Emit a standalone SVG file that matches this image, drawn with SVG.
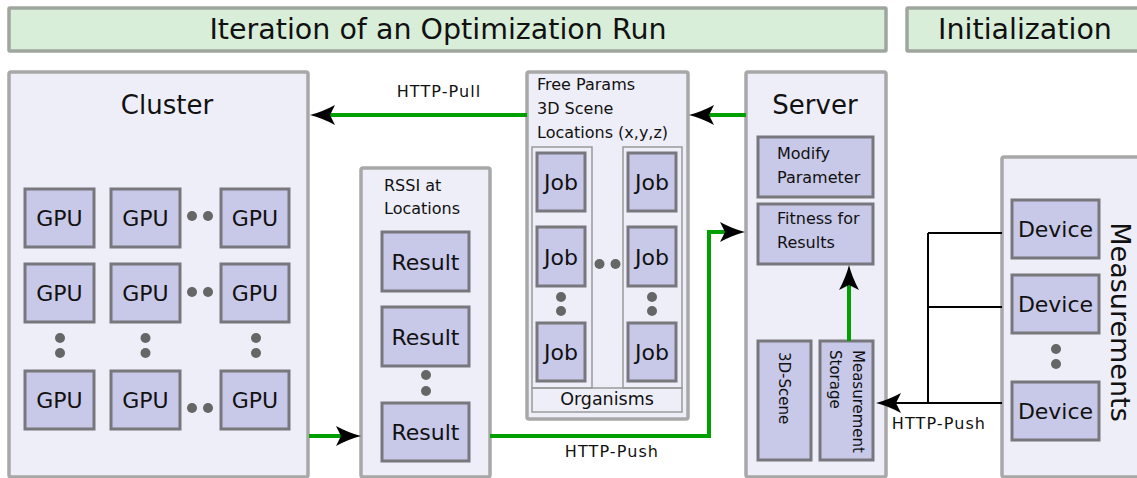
<svg xmlns="http://www.w3.org/2000/svg" width="1137" height="478" viewBox="0 0 1137 478">
<style>
text{font-family:"DejaVu Sans","Liberation Sans",sans-serif;fill:#111}
.hdr{fill:#d8eed8;stroke:#9ea69e;stroke-width:3.5}
.outer{fill:#eeeef8;stroke:#a8a8a8;stroke-width:3.5}
.node{fill:#c8c8e8;stroke:#77777d;stroke-width:3}
.inner{fill:none;stroke:#9a9a9a;stroke-width:1.5}
.dot{fill:#666}
.big{font-size:26px;text-anchor:middle}
.ttl{font-size:28.5px;text-anchor:middle}
.lbl{font-size:22px;text-anchor:middle}
.sm{font-size:16px}
.rot{font-size:15px}
.edge{font-size:16px;letter-spacing:1.1px;text-anchor:middle}
.g{fill:none;stroke:#00a000;stroke-width:4}
.k{fill:none;stroke:#000;stroke-width:2}
</style>
<defs>
<marker id="ah" viewBox="-26 -11 27 22" refX="-15" refY="0" markerWidth="27" markerHeight="22" markerUnits="userSpaceOnUse" orient="auto">
<path d="M0,0 Q-12,-3 -25,-10 L-20,0 L-25,10 Q-12,3 0,0 Z" fill="#000"/>
</marker>
</defs>

<g id="header-iteration">
<rect class="hdr" x="9" y="8" width="877" height="43" rx="1"/>
<text class="ttl" x="438" y="39">Iteration of an Optimization Run</text>
</g>
<g id="header-init">
<rect class="hdr" x="907" y="8" width="240" height="43" rx="1"/>
<text class="ttl" x="1025" y="39">Initialization</text>
</g>

<g id="cluster">
<rect class="outer" x="9" y="72" width="299" height="405" rx="2"/>
<text class="big" x="167" y="114">Cluster</text>
<g id="gpus">
<rect class="node" x="25" y="189" width="69" height="58"/><text class="lbl" x="59.5" y="226">GPU</text>
<rect class="node" x="111" y="189" width="69" height="58"/><text class="lbl" x="145.5" y="226">GPU</text>
<rect class="node" x="221" y="189" width="68" height="58"/><text class="lbl" x="255" y="226">GPU</text>
<rect class="node" x="25" y="264" width="69" height="58"/><text class="lbl" x="59.5" y="301">GPU</text>
<rect class="node" x="111" y="264" width="69" height="58"/><text class="lbl" x="145.5" y="301">GPU</text>
<rect class="node" x="221" y="264" width="68" height="58"/><text class="lbl" x="255" y="301">GPU</text>
<rect class="node" x="25" y="371" width="69" height="58"/><text class="lbl" x="59.5" y="408">GPU</text>
<rect class="node" x="111" y="371" width="69" height="58"/><text class="lbl" x="145.5" y="408">GPU</text>
<rect class="node" x="221" y="371" width="68" height="58"/><text class="lbl" x="255" y="408">GPU</text>
</g>
<circle class="dot" cx="192" cy="216" r="5"/><circle class="dot" cx="208" cy="216" r="5"/>
<circle class="dot" cx="192" cy="292" r="5"/><circle class="dot" cx="208" cy="292" r="5"/>
<circle class="dot" cx="192" cy="408" r="5"/><circle class="dot" cx="208" cy="408" r="5"/>
<circle class="dot" cx="60" cy="338" r="5"/><circle class="dot" cx="60" cy="353" r="5"/>
<circle class="dot" cx="145.5" cy="338" r="5"/><circle class="dot" cx="145.5" cy="353" r="5"/>
<circle class="dot" cx="256" cy="338" r="5"/><circle class="dot" cx="256" cy="353" r="5"/>
</g>

<g id="rssi">
<rect class="outer" x="361" y="168" width="129" height="309" rx="2"/>
<text class="sm" x="384" y="191">RSSI at</text>
<text class="sm" x="384" y="214">Locations</text>
<rect class="node" x="382" y="232" width="87" height="59"/><text class="lbl" x="425.5" y="269.5">Result</text>
<rect class="node" x="382" y="307" width="87" height="59"/><text class="lbl" x="425.5" y="344.5">Result</text>
<rect class="node" x="382" y="403" width="87" height="58"/><text class="lbl" x="425.5" y="440">Result</text>
<circle class="dot" cx="426" cy="375" r="5"/><circle class="dot" cx="426" cy="391" r="5"/>
</g>

<g id="jobs">
<rect class="outer" x="527" y="72" width="161" height="347" rx="2"/>
<text class="sm" x="537" y="90">Free Params</text>
<text class="sm" x="537" y="114">3D Scene</text>
<text class="sm" x="537" y="138">Locations (x,y,z)</text>
<rect class="inner" x="532" y="147" width="60" height="241"/>
<rect class="inner" x="623" y="147" width="59" height="241"/>
<rect class="inner" x="532" y="388" width="150" height="24"/>
<text x="607" y="405" style="font-size:17.5px;text-anchor:middle">Organisms</text>
<rect class="node" x="537" y="153" width="48" height="58"/><text class="lbl" x="561" y="190">Job</text>
<rect class="node" x="628" y="153" width="48" height="58"/><text class="lbl" x="652" y="190">Job</text>
<rect class="node" x="537" y="227" width="48" height="59"/><text class="lbl" x="561" y="264.5">Job</text>
<rect class="node" x="628" y="227" width="48" height="59"/><text class="lbl" x="652" y="264.5">Job</text>
<rect class="node" x="537" y="323" width="48" height="58"/><text class="lbl" x="561" y="360">Job</text>
<rect class="node" x="628" y="323" width="48" height="58"/><text class="lbl" x="652" y="360">Job</text>
<circle class="dot" cx="599.5" cy="264" r="5"/><circle class="dot" cx="615.5" cy="264" r="5"/>
<circle class="dot" cx="561" cy="297" r="5"/><circle class="dot" cx="561" cy="311" r="5"/>
<circle class="dot" cx="652" cy="297" r="5"/><circle class="dot" cx="652" cy="311" r="5"/>
</g>

<g id="server">
<rect class="outer" x="746" y="72" width="140" height="405" rx="2"/>
<text class="big" x="815" y="114">Server</text>
<g id="modify">
<rect class="node" x="758" y="137" width="115" height="60"/>
<text class="sm" x="777" y="159">Modify</text>
<text class="sm" x="777" y="183">Parameter</text>
</g>
<g id="fitness">
<rect class="node" x="758" y="204" width="115" height="60"/>
<text class="sm" x="777" y="224">Fitness for</text>
<text class="sm" x="777" y="248">Results</text>
</g>
<g id="scene3d">
<rect class="node" x="758" y="341" width="53" height="119"/>
<text class="rot" transform="translate(779,352) rotate(90)">3D-Scene</text>
</g>
<g id="storage">
<rect class="node" x="820" y="341" width="53" height="119"/>
<text class="rot" transform="translate(853,350) rotate(90)">Measurement</text>
<text class="rot" transform="translate(830,350) rotate(90)">Storage</text>
</g>
</g>

<g id="measurements">
<rect class="outer" x="1002" y="157" width="150" height="320" rx="2"/>
<rect class="node" x="1012" y="200" width="87" height="58"/><text class="lbl" x="1055.5" y="237">Device</text>
<rect class="node" x="1012" y="275" width="87" height="58"/><text class="lbl" x="1055.5" y="312">Device</text>
<rect class="node" x="1012" y="382" width="87" height="58"/><text class="lbl" x="1055.5" y="419">Device</text>
<circle class="dot" cx="1056" cy="349" r="5"/><circle class="dot" cx="1056" cy="364" r="5"/>
<text transform="translate(1111,322) rotate(90)" style="font-size:27px;text-anchor:middle">Measurements</text>
</g>

<g id="connectors">
<path class="g" d="M527,115 H325" marker-end="url(#ah)"/>
<text class="edge" x="439" y="97">HTTP-Pull</text>
<path class="g" d="M746,115 H704" marker-end="url(#ah)"/>
<path class="g" d="M309,436 H346" marker-end="url(#ah)"/>
<path class="g" d="M490,436 H709 V232 H730" marker-end="url(#ah)"/>
<text class="edge" x="612" y="457">HTTP-Push</text>
<path class="g" d="M849,341 V280" marker-end="url(#ah)"/>
<path class="k" d="M1002,233 H928 M1002,307 H928 M928,233 V403"/>
<path class="k" d="M1002,403 H891" marker-end="url(#ah)"/>
<text class="edge" x="939" y="429">HTTP-Push</text>
</g>
</svg>
